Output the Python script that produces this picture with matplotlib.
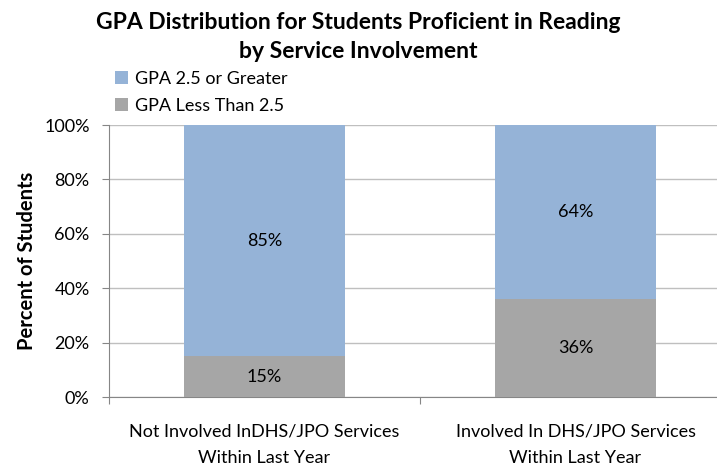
import matplotlib
matplotlib.use("Agg")
import matplotlib.pyplot as plt
import numpy as np

categories = ["Not Involved InDHS/JPO Services\nWithin Last Year",
              "Involved In DHS/JPO Services\nWithin Last Year"]
less_than_25 = [15, 36]
greater_25 = [85, 64]
series_names = ["GPA 2.5 or Greater", "GPA Less Than 2.5"]
yticks = [0, 20, 40, 60, 80, 100]

plt.rcParams['font.family'] = ['Lato', 'DejaVu Sans']

fig = plt.figure(figsize=(7.17, 4.76), dpi=100)
W, H = 717, 476
left, right = 109, 731
bottom, top = 397, 125
ax = fig.add_axes([left / W, 1 - bottom / H, (right - left) / W, (bottom - top) / H])

blue = "#95B3D7"
gray = "#A6A6A6"
x = np.arange(len(categories))
width = 0.52
b1 = ax.bar(x, less_than_25, width, color=gray, label=series_names[1], zorder=3)
b2 = ax.bar(x, greater_25, width, bottom=less_than_25, color=blue, label=series_names[0], zorder=3)

for i in range(len(categories)):
    ax.text(x[i], less_than_25[i] / 2, f"{less_than_25[i]}%", ha="center", va="center", fontsize=13, zorder=4)
    ax.text(x[i], less_than_25[i] + greater_25[i] / 2, f"{greater_25[i]}%", ha="center", va="center", fontsize=13, zorder=4)

ax.set_xlim(-0.5, 1.5)
ax.set_ylim(0, 100)
ax.set_yticks(yticks)
ax.set_yticklabels([f"{t}%" for t in yticks], fontsize=13)
ax.yaxis.grid(True, color="#BFBFBF", linewidth=1, zorder=0)
ax.set_xticks([-0.5, 0.5])
ax.set_xticklabels([])
ax.set_xticks(x, minor=True)
ax.set_xticklabels(categories, minor=True, fontsize=13, linespacing=1.8)
ax.tick_params(axis="x", which="minor", length=0, pad=19)
ax.tick_params(axis="x", which="major", length=5, color="#868686", direction="out")
ax.tick_params(axis="y", length=5, color="#868686", direction="out", pad=9)
for s in ["top", "right"]:
    ax.spines[s].set_visible(False)
for s in ["left", "bottom"]:
    ax.spines[s].set_color("#868686")
ax.set_ylabel("Percent of Students", fontsize=14.5, fontweight="bold", labelpad=5)

fig.text(358 / W, 1 - 37 / H, "GPA Distribution for Students Proficient in Reading\nby Service Involvement",
         ha="center", va="center", fontsize=16.5, fontweight="bold", linespacing=1.45)

handles = [b2, b1]
fig.legend(handles, series_names, loc="upper left", bbox_to_anchor=(115 / W, 1 - 71 / H),
           frameon=False, fontsize=13, handlelength=0.7, handleheight=0.7,
           handletextpad=0.4, labelspacing=0.6, borderaxespad=0, borderpad=0)

fig.savefig("out.png", dpi=100)
